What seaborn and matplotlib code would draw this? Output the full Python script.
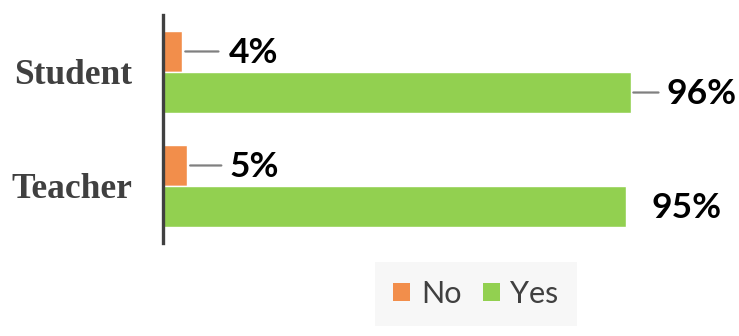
import matplotlib
matplotlib.use("Agg")
import matplotlib.pyplot as plt
import seaborn as sns
import pandas as pd
from matplotlib.patches import Patch

categories = ["Student", "Teacher"]
no_values = [4, 5]
yes_values = [96, 95]
series = ["No", "Yes"]
colors = {"No": "#F28E4B", "Yes": "#92D050"}

df = pd.DataFrame({
    "group": categories * 2,
    "answer": ["No"] * len(categories) + ["Yes"] * len(categories),
    "value": no_values + yes_values,
})

sns.set_style("white")
plt.rcParams['font.family'] = ['Lato', 'DejaVu Sans']

fig = plt.figure(figsize=(7.39, 3.36), dpi=100)
ax = fig.add_axes([163 / 739, 1 - 243 / 336, 487 / 739, 228 / 336])

sns.barplot(data=df, y="group", x="value", hue="answer", order=categories,
            hue_order=series, palette=colors, orient="h", width=0.72,
            ax=ax, legend=False, saturation=1)

ax.set_xlim(0, 100)
ax.set_ylim(1.5, -0.5)
ax.set_xlabel("")
ax.set_ylabel("")
ax.set_xticks([])
for s in ["top", "right", "bottom"]:
    ax.spines[s].set_visible(False)
ax.spines["left"].set_color("#404040")
ax.spines["left"].set_linewidth(2.4)
ax.tick_params(axis="y", length=0, pad=22)
for lbl in ax.get_yticklabels():
    lbl.set_fontfamily("Liberation Serif")
    lbl.set_fontweight("bold")
    lbl.set_fontsize(25.5)
    lbl.set_color("#404040")

px = 0.72  # points per pixel
hw = 0.18
# label settings: (value, y, line_length_px or None, text offset px)
labels = [
    (no_values[0], 0 - hw, 36, 46),
    (yes_values[0], 0 + hw, 28, 36),
    (no_values[1], 1 - hw, 34, 42),
    (yes_values[1], 1 + hw, None, 26),
]
for val, y, line_len, toff in labels:
    if line_len is not None:
        ax.annotate("", xy=(val, y), xycoords="data",
                    xytext=(line_len * px, 0), textcoords="offset points",
                    arrowprops=dict(arrowstyle="-", color="#808080", lw=1.6,
                                    shrinkA=0, shrinkB=2))
    ax.annotate(f"{val}%", xy=(val, y), xycoords="data",
                xytext=(toff * px, -1), textcoords="offset points",
                ha="left", va="center", fontsize=25.5, fontweight="bold",
                color="#000000")

handles = [Patch(facecolor=colors[s], edgecolor="none", label=s) for s in series]
leg = fig.legend(handles=handles, loc="center", bbox_to_anchor=(476 / 739, 1 - 294 / 336),
                 ncol=2, frameon=True, fontsize=22, handlelength=0.55, handleheight=0.55,
                 handletextpad=0.35, columnspacing=0.7, borderpad=0.6,
                 fancybox=False)
leg.get_frame().set_facecolor("#F5F5F5")
leg.get_frame().set_edgecolor("none")
for t in leg.get_texts():
    t.set_color("#404040")

fig.savefig("out.png", dpi=100)
